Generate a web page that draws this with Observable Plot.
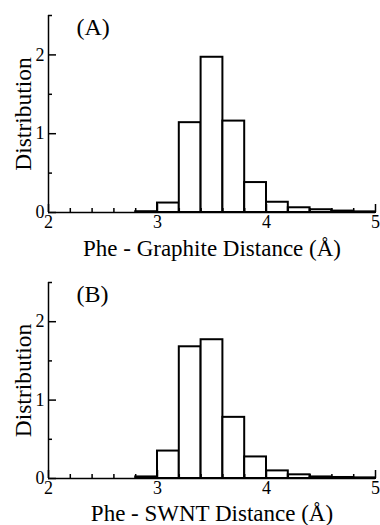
<!DOCTYPE html>
<html>
<head>
<meta charset="utf-8">
<script src="https://cdn.jsdelivr.net/npm/d3@7"></script>
<script src="https://cdn.jsdelivr.net/npm/@observablehq/plot@0.6"></script>
<style>
  html, body { margin: 0; padding: 0; background: #fff; }
  #chart { width: 380px; }
  #chart svg { display: block; }
</style>
</head>
<body>
<div id="chart"></div>
<script>
// Bin edges (Å)
const binStarts = [2.0, 2.2, 2.4, 2.6, 2.8, 3.0, 3.2, 3.4, 3.6, 3.8, 4.0, 4.2, 4.4, 4.6, 4.8];
const binWidth = 0.2;
// Panel A: Phe - Graphite distance distribution
const graphiteValues = [0, 0, 0, 0, 0.01, 0.12, 1.14, 1.97, 1.16, 0.38, 0.13, 0.06, 0.035, 0.018, 0.008];
// Panel B: Phe - SWNT distance distribution
const swntValues = [0, 0, 0, 0, 0.02, 0.35, 1.68, 1.77, 0.78, 0.275, 0.097, 0.047, 0.02, 0.013, 0.008];

const xMajor = [2, 3, 4, 5];
const xMinor = [2.2, 2.4, 2.6, 2.8, 3.2, 3.4, 3.6, 3.8, 4.2, 4.4, 4.6, 4.8];
const yMajor = [0, 1, 2];
const yMinor = [0.5, 1.5, 2.5];

const panels = [
  {tag: "(A)", label: "Phe - Graphite Distance (Å)", values: graphiteValues, height: 262, marginTop: 15, marginBottom: 50, labelDy: 43},
  {tag: "(B)", label: "Phe - SWNT Distance (Å)", values: swntValues, height: 263, marginTop: 20, marginBottom: 47, labelDy: 42}
];

const font = "'Liberation Serif', 'Times New Roman', serif";
const W = 380, ML = 48, MR = 5;

for (const p of panels) {
  const bins = binStarts.map((s, i) => ({x1: s, x2: s + binWidth, y: p.values[i]}));
  const innerH = p.height - p.marginTop - p.marginBottom;
  const innerW = W - ML - MR;
  const chart = Plot.plot({
    width: W,
    height: p.height,
    marginLeft: ML,
    marginRight: MR,
    marginTop: p.marginTop,
    marginBottom: p.marginBottom,
    style: {fontFamily: font, background: "#fff", overflow: "visible"},
    x: {domain: [2, 5], axis: null},
    y: {domain: [0, 2.5], axis: null},
    marks: [
      Plot.rectY(bins, {x1: "x1", x2: "x2", y: "y", fill: "white", stroke: "black", strokeWidth: 2}),
      // inward ticks
      Plot.tickX(xMajor, {x: d => d, insetTop: innerH - 8, stroke: "black", strokeWidth: 1.5}),
      Plot.tickX(xMinor, {x: d => d, insetTop: innerH - 4, stroke: "black", strokeWidth: 1.5}),
      Plot.tickY(yMajor, {y: d => d, insetRight: innerW - 8, stroke: "black", strokeWidth: 1.5}),
      Plot.tickY(yMinor, {y: d => d, insetRight: innerW - 4, stroke: "black", strokeWidth: 1.5}),
      // axis lines
      Plot.ruleY([0], {stroke: "black", strokeWidth: 1.5}),
      Plot.ruleX([2], {y1: 0, y2: 2.5, stroke: "black", strokeWidth: 1.5}),
      // tick labels
      Plot.axisX(xMajor, {tickSize: 0, tickPadding: 3, fontSize: 18, label: null, fill: "black", tickFormat: d3.format("d")}),
      Plot.axisY(yMajor, {tickSize: 0, tickPadding: 4, fontSize: 18, label: null, fill: "black", tickFormat: d3.format("d")}),
      // axis titles
      Plot.text([p.label], {frameAnchor: "bottom", dy: p.labelDy, lineAnchor: "bottom", textAnchor: "middle", fontSize: 23, fill: "black"}),
      Plot.text(["Distribution"], {frameAnchor: "left", dx: -18, rotate: -90, lineAnchor: "bottom", textAnchor: "middle", fontSize: 23.5, fill: "black"}),
      // panel tag
      Plot.text([p.tag], {frameAnchor: "top-left", dx: 28, dy: 19, lineAnchor: "bottom", textAnchor: "start", fontSize: 24, fill: "black"})
    ]
  });
  document.getElementById("chart").appendChild(chart);
}
</script>
</body>
</html>
